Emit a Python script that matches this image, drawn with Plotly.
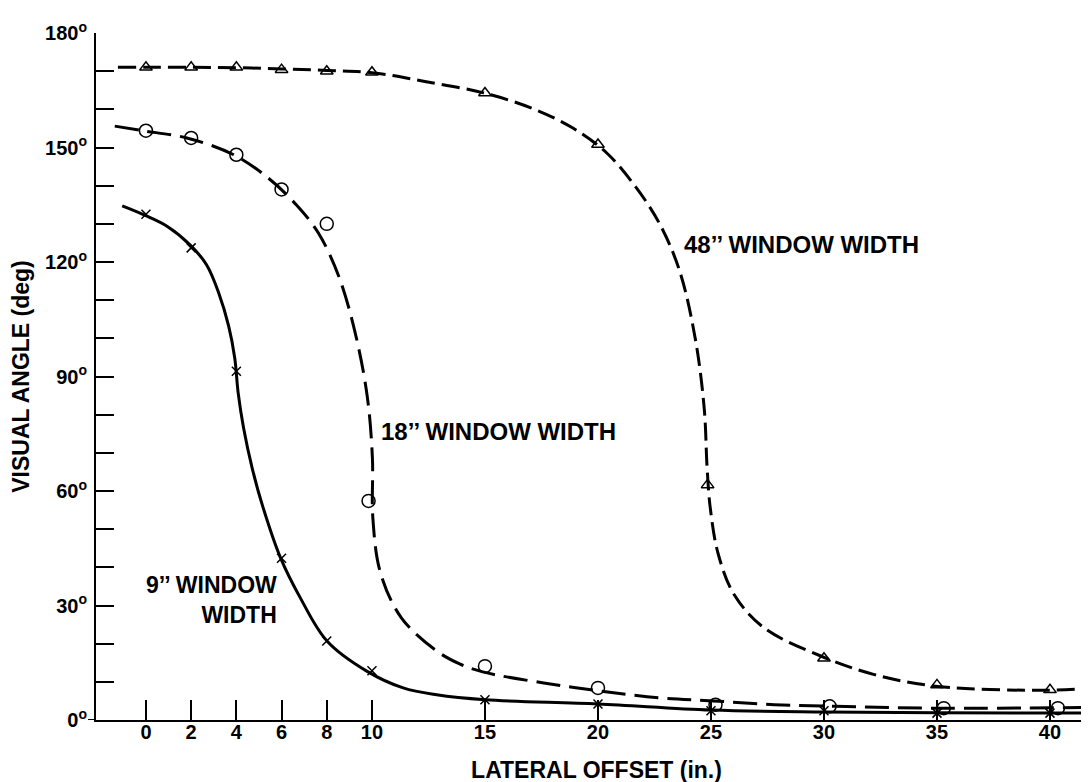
import plotly.graph_objects as go

# measured points (lateral offset in inches, visual angle in degrees)
tri_x = [0, 2, 4, 6, 8, 10, 15, 20, 24.85, 30, 35, 40]
tri_y = [171, 171, 171, 170.4, 170, 169.7, 164.3, 150.8, 61.6, 16.2, 9.2, 7.9]

circ_x = [0, 2, 4, 6, 8, 9.85, 15, 20, 25.2, 30.25, 35.3, 40.35]
circ_y = [154.4, 152.5, 148.1, 139, 130, 57.4, 14.1, 8.4, 4.0, 3.6, 3.1, 3.1]

cross_x = [0, 2, 4, 6, 8, 10, 15, 20, 25, 30, 35, 40]
cross_y = [132.5, 123.7, 91.4, 42.4, 20.7, 12.9, 5.3, 4.2, 2.4, 2.4, 1.8, 1.8]

# hand-drawn fitted curves
curve9_x = [-1.05, -0.11, 0.98, 1.95, 2.68, 3.22, 3.66, 3.93, 4.08, 4.32, 4.70, 5.15, 5.96, 6.83,
            8.01, 9.77, 11.38, 12.86, 15, 20, 25, 30, 35, 42]
curve9_y = [134.7, 132.4, 129.2, 124.5, 119.3, 111.9, 103.2, 94.8, 85.7, 76.5, 66.0, 56.3, 42.4, 32.0,
            20.7, 12.8, 8.4, 6.6, 5.3, 4.2, 2.6, 2.1, 1.9, 1.8]

curve18_x = [-1.38, -0.15, 1.81, 3.88, 5.41, 6.65, 7.63, 8.56, 9.31, 9.80, 10.02, 10.04, 10.38, 11.31,
             12.86, 13.88, 14.9, 17.6, 20.1, 22.7, 25.1, 27.8, 30.5, 34.9, 42]
curve18_y = [155.6, 154.4, 152.5, 148.1, 142.0, 135.0, 127.6, 115.8, 100.1, 84.4, 68.6, 52.9, 38.5, 26.7,
             18.1, 14.7, 12.6, 9.7, 7.6, 5.8, 5.0, 4.0, 3.6, 3.1, 3.3]

curve48_x = [-1.24, 0, 2, 4, 6, 8, 10, 12.34, 14.94, 17.07, 18.89, 20.40, 21.64, 22.71, 23.60, 24.30,
             24.70, 24.83, 24.97, 25.32, 26.03, 27.36, 29.88, 32.23, 35.03, 39.91, 42.08]
curve48_y = [171, 171, 171, 170.9, 170.6, 170.2, 169.6, 167.3, 164.3, 160.3, 155.1, 148.5, 139.9, 130.2, 117.9, 100.1,
             81.7, 66.0, 55.5, 43.5, 32.8, 24.1, 16.7, 11.9, 8.8, 7.8, 8.4]

x_ticks = [0, 2, 4, 6, 8, 10, 15, 20, 25, 30, 35, 40]
y_ticks = [0, 30, 60, 90, 120, 150, 180]
y_labels = [f"{v}<sup>o</sup>" for v in y_ticks]

FONT = "Liberation Sans"
tick_font = dict(family=FONT, size=20, color="black", weight="bold")
title_font = dict(family=FONT, size=23, color="black", weight="bold")
label_font = dict(family=FONT, size=24, color="black", weight="bold")

fig = go.Figure()

fig.add_trace(go.Scatter(x=curve9_x, y=curve9_y, mode="lines",
                         line=dict(color="black", width=3, shape="spline", smoothing=1)))
fig.add_trace(go.Scatter(x=curve18_x, y=curve18_y, mode="lines",
                         line=dict(color="black", width=3, dash="24px,9px", shape="spline", smoothing=1)))
fig.add_trace(go.Scatter(x=curve48_x, y=curve48_y, mode="lines",
                         line=dict(color="black", width=3, dash="18px,7px", shape="spline", smoothing=1)))

fig.add_trace(go.Scatter(x=cross_x, y=cross_y, mode="markers",
                         marker=dict(symbol="x-thin", size=9, line=dict(color="black", width=1.5))))
fig.add_trace(go.Scatter(x=circ_x, y=circ_y, mode="markers",
                         marker=dict(symbol="circle-open", size=13, color="black", line=dict(width=1.5))))
fig.add_trace(go.Scatter(x=tri_x, y=tri_y, mode="markers",
                         marker=dict(symbol="triangle-up-open", size=11, color="black", line=dict(width=1.5))))

fig.add_annotation(x=23.73, y=124.5, text="48’’ WINDOW WIDTH", showarrow=False, font=label_font,
                   xanchor="left")
fig.add_annotation(x=10.33, y=75.7, text="18’’ WINDOW WIDTH", showarrow=False, font=label_font,
                   xanchor="left")
fig.add_annotation(x=5.9, y=31.5, text="9’’ WINDOW<br>WIDTH", showarrow=False,
                   font=dict(label_font, size=23), xanchor="right", align="right")

# x axis line runs a little past the y axis on the left
fig.add_shape(type="line", xref="paper", yref="y", x0=-0.008, x1=0, y0=0, y1=0,
              line=dict(color="black", width=2))

fig.update_layout(
    width=1089, height=782,
    margin=dict(l=88, r=0, t=25, b=70),
    plot_bgcolor="white", paper_bgcolor="white",
    showlegend=False,
    xaxis=dict(range=[-2.21, 42.08], tickvals=x_ticks, ticktext=[str(v) for v in x_ticks],
               ticks="inside", ticklen=20, tickwidth=1.5, tickcolor="black",
               showline=True, linecolor="black", linewidth=2, automargin=False,
               showgrid=False, zeroline=False, tickfont=tick_font, ticklabelstandoff=-7,
               title=dict(text="LATERAL OFFSET (in.)", font=title_font, standoff=20)),
    yaxis=dict(range=[0, 180], tickvals=y_ticks, ticktext=y_labels,
               ticks="inside", ticklen=18, tickwidth=1.5, tickcolor="black",
               minor=dict(dtick=10, tick0=0, ticks="inside", ticklen=18, tickwidth=1.5,
                          tickcolor="black", showgrid=False),
               showline=True, linecolor="black", linewidth=2, automargin=False,
               showgrid=False, zeroline=False, tickfont=tick_font, ticklabelstandoff=3,
               title=dict(text="VISUAL ANGLE (deg)", font=title_font, standoff=9)),
)

fig.write_html("out.html")
